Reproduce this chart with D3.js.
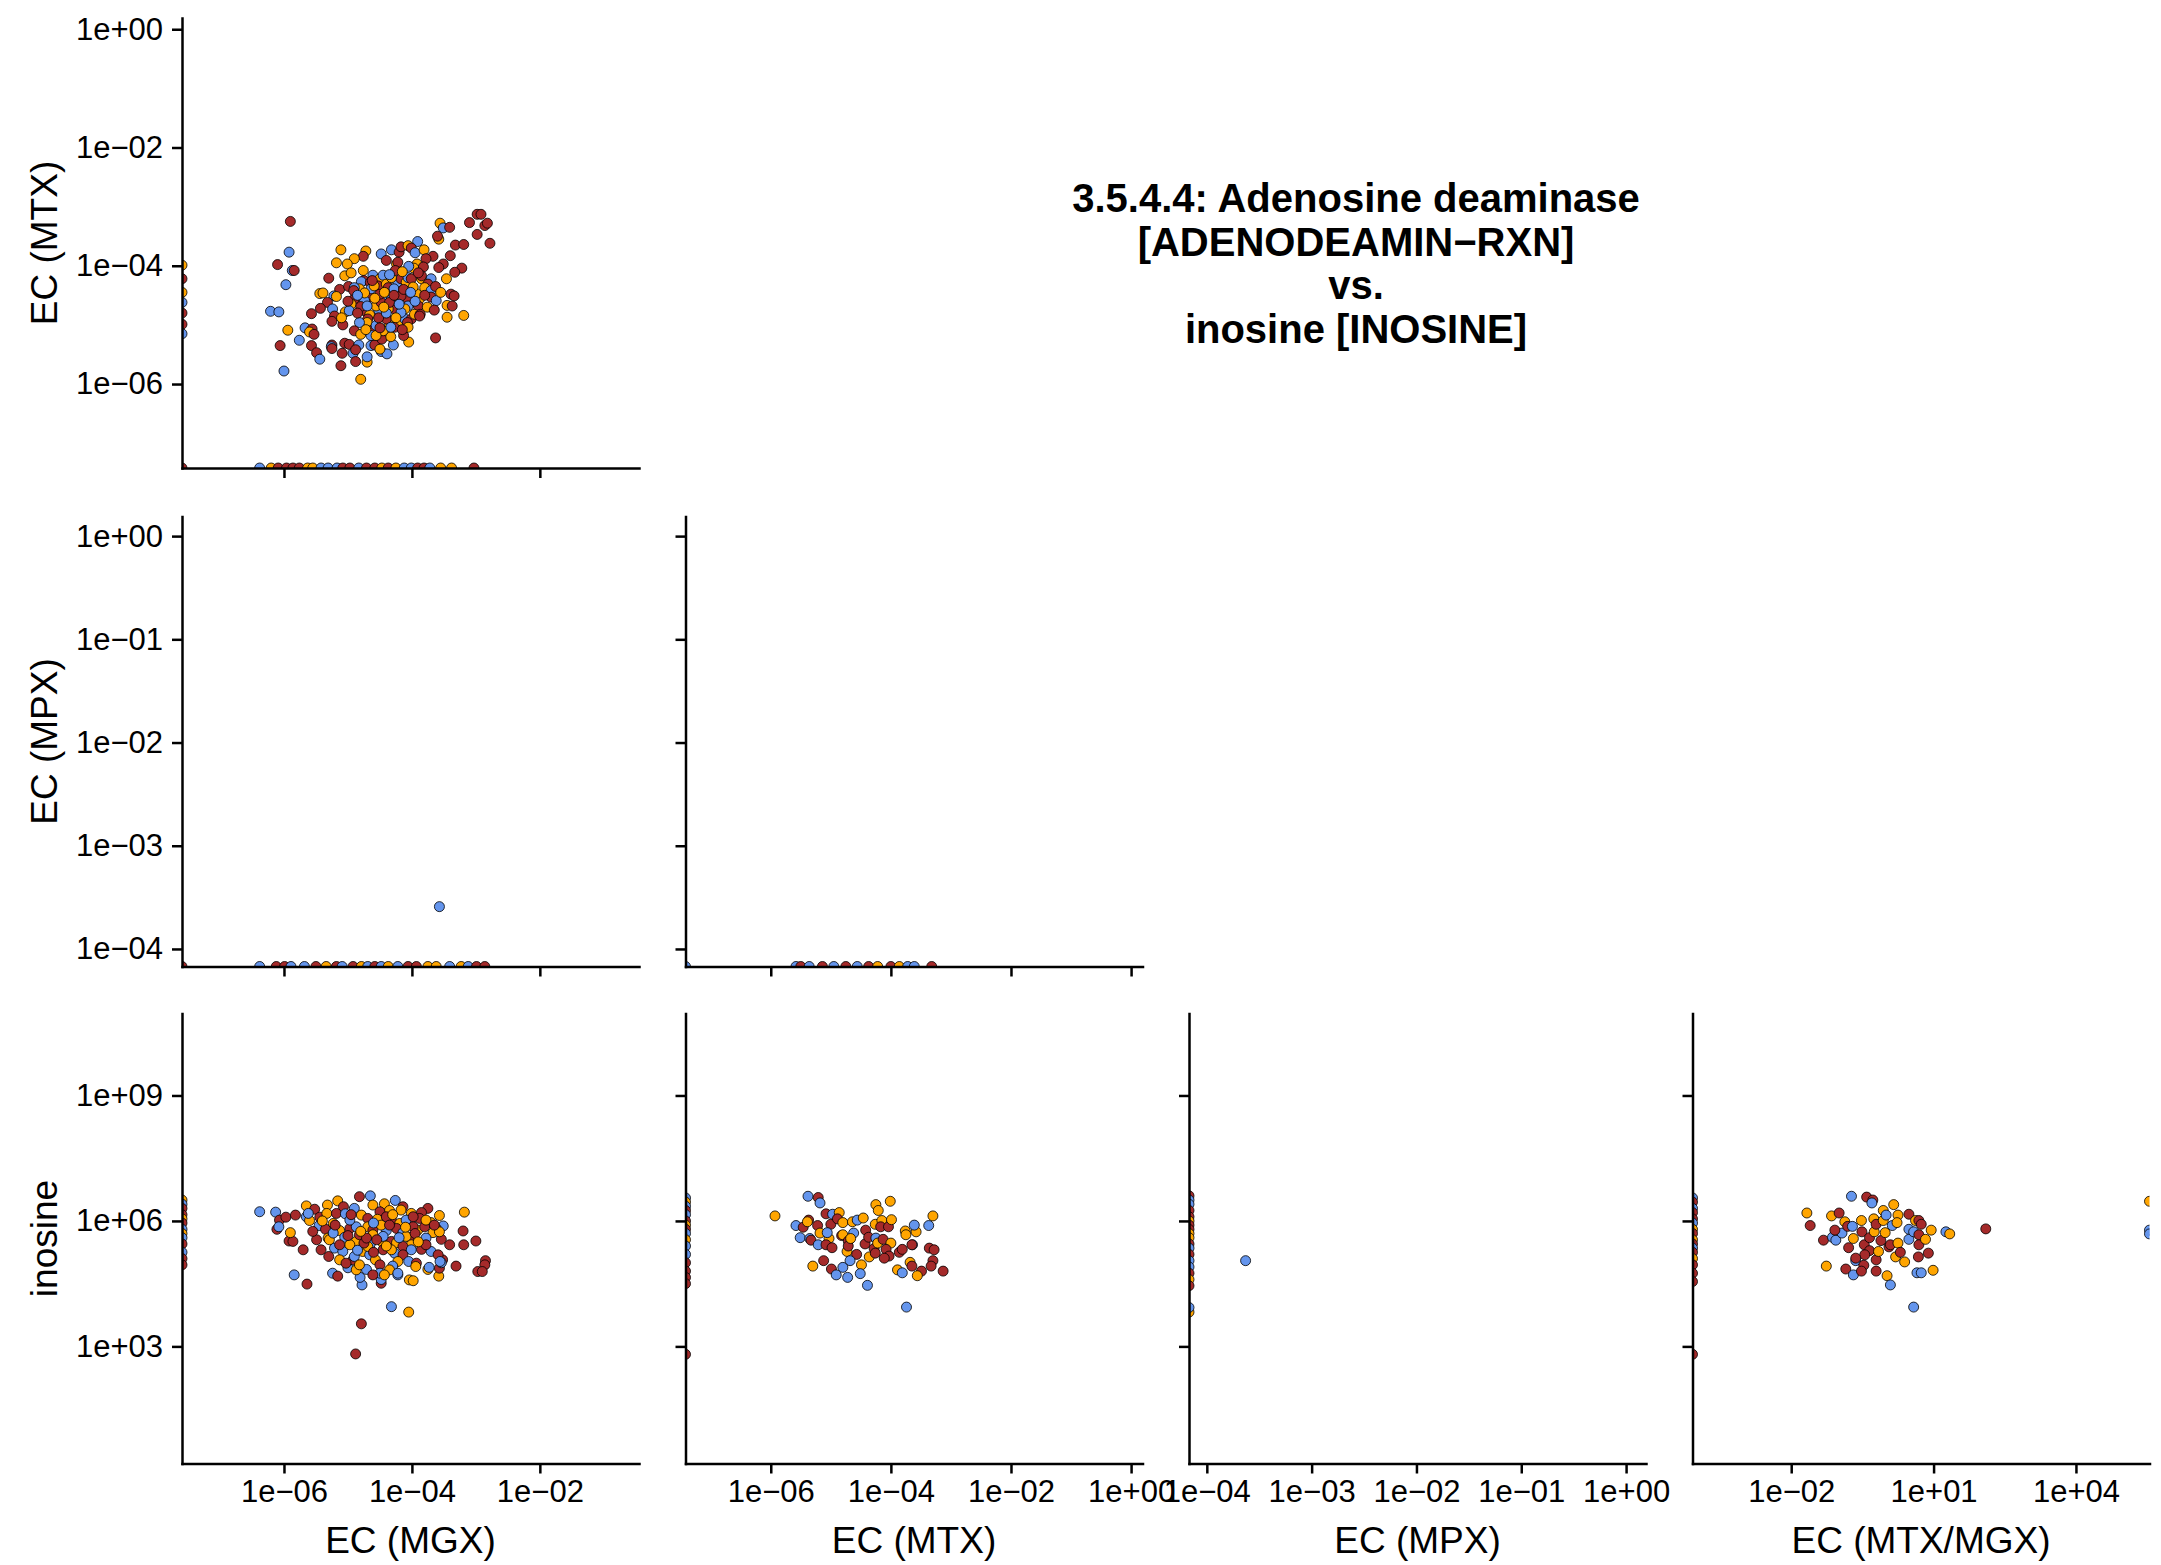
<!DOCTYPE html>
<html>
<head>
<meta charset="utf-8">
<script src="https://cdn.jsdelivr.net/npm/d3@7"></script>
<style>
  html, body { margin: 0; padding: 0; background: #ffffff; }
  svg { display: block; }
</style>
</head>
<body>
<svg id="chart" width="2161" height="1565"></svg>
<script>
// ---------------- DATA (log10 units) ----------------
// null = value 0 (drawn at the lower axis edge); Infinity = drawn at the upper edge.
const groupKeys = ["B", "O", "R"];
const groupColors = ["#6495ED", "#FFA500", "#A52A2A"];

const titleLines = ["3.5.4.4: Adenosine deaminase", "[ADENODEAMIN\u2212RXN]", "vs.", "inosine [INOSINE]"];

const variableNames = ["EC (MGX)", "EC (MTX)", "EC (MPX)", "EC (MTX/MGX)", "inosine"];
// log10 limits of each axis
const variableLimits = [[-7.594, -0.45], [-7.42, 0.19], [-4.17, 0.19], [-4.08, 5.55], [0.2, 10.96]];
// tick values (log10)
const variableTicks = [[-6, -4, -2], [-6, -4, -2, 0], [-4, -3, -2, -1, 0], [-2, 1, 4], [3, 6, 9]];

// Panel: EC (MTX) vs EC (MGX)   [mgx, mtx, group]
const mtxVsMgx = [
  [-5.90,-3.25,"R"],[-5.92,-3.77,"B"],[-6.10,-3.98,"R"],[-5.87,-4.08,"B"],[-5.84,-4.08,"R"],[-5.97,-4.32,"B"],
  [-6.21,-4.77,"B"],[-6.08,-4.78,"B"],[-5.94,-5.09,"O"],[-6.06,-5.35,"R"],[-6.00,-5.78,"B"],[-4.80,-5.92,"O"],
  [-5.11,-5.69,"R"],[-3.63,-5.22,"R"],[-3.45,-4.87,"O"],[-3.19,-4.84,"O"],[-2.78,-3.62,"R"],[-2.98,-3.13,"R"],
  [-2.92,-3.13,"R"],[-3.10,-3.27,"R"],[-2.86,-3.32,"R"],[-2.82,-3.28,"R"],[-2.98,-3.47,"R"],[-3.56,-3.28,"O"],
  [-3.51,-3.36,"B"],[-3.41,-3.35,"R"],[-3.58,-3.55,"O"],[-3.60,-3.50,"R"],[-3.32,-3.65,"R"],[-3.19,-3.64,"R"],
  [-3.91,-3.59,"B"],[-3.40,-3.83,"R"],[-3.22,-4.04,"R"],[-3.33,-4.11,"R"],[-3.46,-4.22,"O"],[-3.39,-4.48,"R"],
  [-3.34,-4.51,"R"],[-3.45,-4.67,"O"],[-3.37,-4.68,"R"],
  [-5.11,-3.73,"O"],[-4.72,-3.75,"O"],[-4.76,-3.84,"R"],[-4.90,-3.88,"O"],[-5.18,-3.95,"O"],[-5.01,-3.97,"O"],
  [-4.48,-3.80,"B"],[-4.32,-3.73,"B"],[-4.20,-3.77,"R"],[-4.17,-3.68,"R"],[-4.06,-3.66,"O"],[-4.01,-3.70,"R"],
  [-3.95,-3.78,"B"],[-3.81,-3.73,"O"],[-4.40,-3.91,"R"],[-4.24,-3.97,"O"],[-4.22,-3.94,"R"],[-3.67,-3.84,"R"],
  [-3.78,-3.88,"R"],[-3.51,-3.97,"R"],[-3.58,-4.03,"R"],[-3.92,-3.97,"O"],[-3.97,-4.04,"O"],[-4.05,-4.01,"B"],
  [-3.82,-4.02,"R"],[-5.30,-4.21,"R"],[-5.05,-4.17,"O"],[-4.95,-4.12,"O"],[-4.76,-4.08,"O"],[-4.75,-4.25,"R"],
  [-4.79,-4.27,"B"],[-5.13,-4.40,"R"],[-4.99,-4.35,"R"],[-5.44,-4.47,"O"],[-5.39,-4.46,"O"],[-5.22,-4.51,"B"],
  [-5.18,-4.52,"O"],[-5.32,-4.62,"R"],[-5.24,-4.73,"B"],[-5.57,-4.81,"R"],[-5.43,-4.72,"R"],[-5.04,-4.78,"O"],
  [-5.21,-4.85,"R"],[-5.25,-4.94,"R"],[-5.08,-5.00,"R"],[-5.67,-5.05,"B"],[-5.56,-5.07,"R"],[-5.60,-5.12,"O"],
  [-5.53,-5.16,"R"],[-5.76,-5.26,"B"],[-5.57,-5.35,"R"],[-5.49,-5.47,"R"],[-5.44,-5.58,"B"],[-5.25,-5.34,"R"],
  [-5.26,-5.37,"B"],[-5.25,-5.40,"R"],[-5.05,-5.31,"R"],[-4.98,-5.33,"R"],[-5.09,-5.48,"R"],[-4.92,-5.48,"B"],
  [-4.88,-5.62,"R"],[-4.70,-5.63,"O"],[-4.70,-5.54,"B"],[-4.64,-5.35,"B"],[-4.58,-5.34,"R"],[-4.48,-5.45,"B"],
  [-4.39,-5.49,"B"],[-4.83,-5.34,"B"],[-4.88,-5.42,"R"],[-4.47,-5.24,"R"],[-4.50,-5.41,"O"],[-4.29,-5.34,"B"],
  [-4.33,-5.20,"O"],[-4.05,-5.29,"O"],[-4.13,-5.18,"R"],
  [-4.61,-4.16,"B"],[-4.65,-4.28,"R"],[-4.50,-4.22,"O"],[-4.45,-4.16,"B"],[-4.53,-4.34,"R"],[-4.40,-4.31,"O"],
  [-4.37,-4.37,"R"],[-4.27,-4.39,"O"],[-4.22,-4.28,"B"],[-4.17,-4.22,"R"],[-4.09,-4.28,"O"],[-4.06,-4.20,"B"],
  [-4.01,-4.22,"R"],[-3.85,-4.22,"O"],[-3.85,-4.17,"R"],[-3.70,-4.22,"B"],[-3.75,-4.31,"R"],[-3.80,-4.37,"O"],
  [-3.70,-4.42,"B"],[-3.70,-4.53,"R"],[-3.88,-4.56,"O"],[-3.62,-4.59,"B"],[-3.90,-4.68,"R"],[-3.93,-4.47,"O"],
  [-4.06,-4.56,"R"],[-4.06,-4.68,"B"],[-4.11,-4.73,"O"],[-4.27,-4.73,"R"],[-4.37,-4.73,"O"],[-4.52,-4.75,"B"],
  [-4.66,-4.53,"R"],[-4.74,-4.59,"B"],[-4.82,-4.39,"O"],[-4.90,-4.56,"R"],[-4.90,-4.37,"B"],[-4.95,-4.65,"O"],
  [-4.74,-4.76,"R"],[-4.66,-4.83,"O"],[-4.69,-4.90,"R"],[-4.70,-4.96,"O"],[-4.82,-4.96,"B"],[-4.90,-5.10,"R"],
  [-4.80,-5.16,"O"],[-4.64,-5.10,"R"],[-4.64,-5.18,"B"],[-4.35,-5.01,"O"],[-4.27,-5.04,"R"],[-4.17,-4.93,"O"],
  [-4.11,-4.90,"B"],[-4.01,-4.90,"R"],[-3.96,-4.82,"O"],[-3.87,-4.82,"R"],[-4.17,-4.79,"B"],[-4.40,-4.90,"R"],
  [-4.45,-5.10,"O"],[-4.33,-5.04,"B"],[-4.07,-4.96,"R"],[-4.06,-5.04,"O"],[-3.88,-4.85,"R"],[-4.45,-4.56,"B"],
  [-4.56,-4.68,"O"],[-4.48,-4.62,"R"],[-4.32,-4.56,"B"],[-4.24,-4.51,"O"],[-4.17,-4.51,"R"],[-4.28,-4.39,"B"],
  [-4.32,-4.20,"O"],[-4.26,-4.08,"R"],[-4.64,-4.39,"B"],[-4.59,-4.34,"O"],[-4.50,-4.48,"R"],[-4.74,-4.46,"O"],
  [-4.98,-4.76,"B"],[-4.91,-4.42,"R"],[-4.80,-4.69,"R"],[-4.56,-5.18,"O"],[-4.56,-5.01,"B"],
  [-4.43,-4.45,"O"],[-4.35,-4.62,"R"],[-4.20,-4.65,"B"],[-4.13,-4.40,"R"],[-3.98,-4.36,"O"],[-3.95,-4.60,"B"],
  [-3.80,-4.50,"R"],[-3.76,-4.70,"O"],[-4.58,-4.55,"O"],[-4.70,-4.68,"B"],[-4.85,-4.80,"R"],[-4.52,-4.88,"R"],
  [-4.40,-4.80,"B"],[-4.25,-4.88,"O"],[-4.15,-5.08,"R"],[-4.50,-5.05,"R"],[-4.72,-5.08,"O"],[-4.85,-4.50,"B"],
  [-5.00,-4.60,"R"],[-5.10,-4.88,"O"],[-4.62,-4.25,"R"],[-4.35,-4.15,"B"],[-4.15,-4.10,"O"],[-3.90,-4.12,"R"],
  [-3.63,-4.35,"R"],[-3.55,-4.45,"O"],[-3.65,-4.75,"R"],[-4.02,-4.45,"B"],[-4.28,-4.50,"R"],[-4.44,-4.70,"O"],
  [null,-3.99,"O"],[null,-4.22,"R"],[null,-4.45,"O"],[null,-4.62,"B"],[null,-4.80,"R"],[null,-4.99,"R"],[null,-5.15,"B"],
  [-6.38,null,"B"],[-6.20,null,"O"],[-6.09,null,"R"],[-5.96,null,"R"],[-5.86,null,"R"],[-5.76,null,"R"],
  [-5.63,null,"O"],[-5.55,null,"O"],[-5.42,null,"B"],[-5.31,null,"B"],[-5.17,null,"B"],[-5.08,null,"R"],
  [-4.97,null,"R"],[-4.83,null,"B"],[-4.71,null,"R"],[-4.58,null,"R"],[-4.47,null,"O"],[-4.37,null,"R"],
  [-4.25,null,"O"],[-4.12,null,"B"],[-4.01,null,"B"],[-3.91,null,"R"],[-3.81,null,"R"],[-3.72,null,"B"],
  [-3.55,null,"O"],[-3.38,null,"O"],[-3.03,null,"R"],[null,null,"R"]
];

// Panel: EC (MPX) vs EC (MGX)   [mgx, mpx, group]
const mpxVsMgx = [
  [-6.38,null,"B"],[-6.12,null,"R"],[-5.99,null,"R"],[-5.89,null,"B"],[-5.68,null,"B"],[-5.50,null,"R"],
  [-5.34,null,"O"],[-5.18,null,"R"],[-5.09,null,"B"],[-4.92,null,"R"],[-4.79,null,"O"],[-4.69,null,"B"],
  [-4.58,null,"R"],[-4.48,null,"B"],[-4.37,null,"O"],[-4.22,null,"B"],[-4.06,null,"R"],[-3.93,null,"R"],
  [-3.75,null,"O"],[-3.62,null,"O"],[-3.41,null,"B"],[-3.23,null,"O"],[-3.12,null,"B"],[-2.99,null,"R"],
  [-2.86,null,"R"],[null,null,"R"],[-3.57,-3.59,"B"]
];

// Panel: EC (MPX) vs EC (MTX)   [mtx, mpx, group]
const mpxVsMtx = [
  [-5.58,null,"B"],[-5.50,null,"R"],[-5.36,null,"B"],[-5.14,null,"R"],[-4.95,null,"B"],[-4.75,null,"R"],
  [-4.56,null,"B"],[-4.37,null,"R"],[-4.22,null,"O"],[-4.00,null,"R"],[-3.86,null,"O"],[-3.72,null,"B"],
  [-3.61,null,"B"],[-3.32,null,"R"],[null,null,"B"]
];

// Panel: inosine vs EC (MGX)   [mgx, inosine, group]
const inoVsMgx = [
  [-6.38,6.22,"B"],[-6.13,6.21,"B"],[-6.07,6.02,"R"],[-5.97,6.09,"R"],[-6.11,5.80,"R"],[-6.08,5.86,"B"],
  [-5.92,5.52,"R"],[-5.86,5.51,"R"],[-5.90,5.72,"O"],[-5.70,5.31,"R"],[-5.84,4.71,"B"],[-5.64,4.49,"R"],
  [-4.32,3.95,"B"],[-4.05,3.82,"O"],[-4.79,3.54,"R"],[-4.88,2.82,"R"],[-3.18,6.21,"O"],[-3.20,5.76,"R"],
  [-3.00,5.52,"R"],[-3.19,5.43,"R"],[-2.85,5.05,"R"],[-2.86,4.95,"R"],[-2.97,4.79,"R"],[-2.90,4.79,"R"],
  [-3.31,4.92,"R"],[-3.58,4.68,"O"],[-4.04,4.59,"O"],[-3.98,4.57,"O"],[-4.22,4.71,"B"],[-4.48,4.51,"R"],
  [-4.48,4.60,"B"],[-4.78,4.47,"B"],[-4.81,4.65,"B"],[-5.24,4.75,"B"],[-5.16,4.68,"R"],[-5.00,4.88,"B"],
  [-4.87,4.83,"O"],[-4.71,4.84,"B"],[-3.57,4.87,"R"],[-3.75,4.84,"O"],[-3.73,4.89,"B"],[-3.52,5.07,"R"],
  [-3.54,5.00,"B"],
  [-4.82,6.58,"R"],[-4.65,6.60,"B"],[-4.26,6.49,"B"],[-5.16,6.48,"O"],[-5.65,6.36,"O"],[-5.32,6.38,"O"],
  [-5.07,6.34,"R"],[-5.52,6.28,"R"],[-4.43,6.41,"O"],[-4.61,6.38,"O"],[-4.14,6.34,"R"],[-3.75,6.30,"R"],
  [-3.57,6.13,"O"],[-3.85,6.20,"R"],[-4.17,6.26,"O"],[-4.35,6.25,"O"],[-4.90,6.30,"B"],[-4.50,6.22,"R"],
  [-4.01,6.18,"O"],[-3.88,6.06,"R"],
  [-5.82,6.14,"R"],[-5.65,6.10,"B"],[-5.60,6.01,"O"],[-5.44,6.09,"R"],[-5.33,6.18,"O"],[-5.18,6.18,"R"],
  [-5.04,6.17,"B"],[-4.79,6.14,"O"],[-4.69,6.06,"R"],[-4.54,6.04,"O"],[-4.32,6.02,"R"],[-4.19,5.94,"O"],
  [-4.09,6.02,"B"],[-3.98,6.10,"R"],[-3.70,5.96,"O"],[-3.51,5.88,"B"],[-3.62,5.82,"R"],
  [-5.45,5.89,"B"],[-5.23,5.94,"O"],[-5.35,5.80,"R"],[-5.13,5.77,"O"],[-4.97,5.82,"R"],[-4.87,5.86,"B"],
  [-4.69,5.86,"O"],[-4.61,5.78,"R"],[-4.40,5.77,"B"],[-4.48,5.90,"O"],[-4.24,5.82,"R"],[-4.14,5.72,"B"],
  [-4.04,5.61,"R"],[-3.91,5.78,"O"],[-3.80,5.86,"R"],[-3.67,5.72,"O"],[-3.78,5.59,"B"],[-3.54,5.56,"R"],
  [-3.57,5.74,"O"],[-3.41,5.43,"R"],[-5.31,5.59,"O"],[-5.49,5.55,"R"],[-5.05,5.61,"B"],[-4.87,5.51,"O"],
  [-4.82,5.67,"R"],[-4.61,5.67,"O"],[-4.65,5.45,"B"],[-4.45,5.47,"O"],[-4.32,5.51,"R"],[-4.24,5.48,"O"],
  [-3.85,5.32,"R"],[-3.70,5.27,"B"],[-3.59,5.19,"R"],[-3.56,5.03,"B"],[-4.01,5.43,"O"],[-4.14,5.39,"R"],
  [-4.01,5.31,"B"],
  [-5.42,5.31,"R"],[-5.21,5.35,"B"],[-5.29,5.55,"O"],[-5.30,5.15,"R"],[-5.08,5.27,"B"],[-5.13,5.07,"O"],
  [-4.92,5.07,"R"],[-4.77,5.27,"O"],[-4.66,5.19,"B"],[-4.57,5.07,"O"],[-4.45,5.31,"R"],[-4.27,5.23,"B"],
  [-4.14,5.19,"R"],[-4.22,5.03,"O"],[-4.05,5.03,"B"],[-3.93,4.99,"R"],[-3.94,4.91,"O"],[-4.30,4.92,"B"],
  [-4.50,4.95,"R"],[-4.35,4.83,"O"],[-4.90,5.15,"B"],[-5.03,4.99,"R"],[-4.82,4.95,"O"],[-4.50,4.75,"B"],
  [-4.61,4.71,"R"],[-4.43,4.71,"O"],[-4.22,4.75,"B"],[-4.69,5.39,"O"],[-4.75,5.47,"R"],[-5.62,6.18,"B"],
  [-4.97,5.43,"O"],[-5.13,5.43,"R"],[-4.45,5.63,"B"],[-4.71,5.59,"R"],[-4.32,5.31,"O"],[-3.98,5.86,"R"],
  [-5.23,5.71,"B"],[-4.09,5.63,"O"],[-3.78,5.43,"R"],[-3.78,6.02,"O"],[-4.97,6.02,"B"],[-4.40,6.10,"R"],
  [-4.60,5.95,"B"],[-4.35,5.90,"R"],[-4.10,5.85,"O"],[-3.95,5.70,"R"],[-4.55,5.55,"R"],[-4.80,5.75,"O"],
  [-5.00,5.65,"R"],[-5.20,5.90,"R"],[-4.20,5.60,"B"],[-4.40,5.40,"O"],[-4.60,5.25,"R"],[-4.85,5.30,"B"],
  [-3.90,5.50,"O"],[-3.65,5.90,"R"],[-5.40,6.00,"O"],[-5.55,5.75,"R"],[-4.30,6.15,"O"],[-4.95,6.15,"R"],
  [null,6.50,"O"],[null,6.40,"B"],[null,6.30,"R"],[null,6.15,"R"],[null,6.05,"O"],[null,5.95,"R"],
  [null,5.80,"B"],[null,5.70,"O"],[null,5.60,"B"],[null,5.45,"R"],[null,5.25,"B"],[null,5.10,"R"],[null,4.95,"R"]
];

// Panel: inosine vs EC (MTX)   [mtx, inosine, group]
const inoVsMtx = [
  [-5.93,6.12,"O"],[-5.38,6.59,"B"],[-5.21,6.56,"R"],[-5.18,6.43,"B"],[-5.58,5.89,"B"],[-5.46,5.85,"R"],
  [-5.51,5.60,"B"],[-5.37,6.02,"R"],[-5.39,5.98,"O"],[-5.35,5.58,"B"],[-5.33,5.54,"R"],[-5.22,5.89,"R"],
  [-5.18,5.71,"O"],[-5.03,5.58,"O"],[-5.21,5.43,"B"],[-5.08,5.43,"R"],[-4.98,5.36,"R"],[-5.08,6.17,"R"],
  [-4.97,6.16,"B"],[-4.86,6.20,"O"],[-5.00,5.92,"R"],[-5.06,5.72,"B"],[-4.89,6.05,"R"],[-4.80,5.96,"O"],
  [-4.82,5.65,"R"],[-4.80,5.67,"O"],[-4.73,5.27,"O"],[-4.71,5.52,"R"],[-4.71,5.40,"R"],[-4.64,5.98,"O"],
  [-4.62,5.71,"B"],[-4.67,5.58,"O"],[-4.56,6.02,"B"],[-4.46,6.07,"O"],[-4.42,5.78,"R"],[-4.57,5.20,"R"],
  [-4.68,5.05,"B"],[-4.80,4.89,"B"],[-4.99,4.85,"R"],[-5.12,5.05,"R"],[-5.30,4.92,"O"],[-4.91,4.71,"B"],
  [-4.72,4.65,"B"],[-4.49,4.95,"O"],[-4.51,4.74,"B"],[-4.39,4.46,"B"],[-4.36,5.14,"O"],[-4.43,5.45,"R"],
  [-4.37,5.61,"R"],[-4.25,6.39,"O"],[-4.21,6.25,"O"],[-4.26,5.92,"O"],[-4.28,5.34,"R"],[-4.26,5.23,"R"],
  [-4.25,5.59,"B"],[-4.22,5.47,"O"],[-4.15,6.01,"O"],[-4.17,5.86,"R"],[-4.13,5.56,"R"],[-4.04,5.86,"R"],
  [-3.99,6.03,"O"],[-4.00,5.47,"O"],[-4.01,6.47,"O"],[-4.08,5.32,"R"],[-4.03,5.16,"R"],[-4.11,5.11,"R"],
  [-3.86,5.25,"R"],[-3.81,5.32,"R"],[-3.76,5.76,"O"],[-3.75,5.67,"O"],[-3.58,5.74,"O"],[-3.61,5.90,"B"],
  [-3.64,5.43,"B"],[-3.65,5.43,"R"],[-3.68,5.01,"O"],[-3.65,4.92,"R"],[-3.89,4.83,"O"],[-3.81,4.76,"B"],
  [-3.49,4.80,"R"],[-3.56,4.69,"O"],[-3.37,5.89,"B"],[-3.30,6.12,"O"],[-3.36,5.35,"R"],[-3.28,5.31,"R"],
  [-3.30,5.05,"R"],[-3.33,4.92,"R"],[-3.13,4.80,"R"],[-3.74,3.94,"B"],
  [null,6.55,"B"],[null,6.45,"O"],[null,6.35,"B"],[null,6.25,"R"],[null,6.15,"B"],[null,6.00,"R"],
  [null,5.90,"O"],[null,5.80,"R"],[null,5.70,"B"],[null,5.55,"O"],[null,5.40,"B"],[null,5.20,"B"],
  [null,5.00,"R"],[null,4.80,"R"],[null,4.65,"R"],[null,4.50,"R"],[null,2.81,"R"]
];

// Panel: inosine vs EC (MPX)   [mpx, inosine, group]
const inoVsMpx = [
  [null,6.60,"R"],[null,6.50,"B"],[null,6.40,"B"],[null,6.25,"R"],[null,6.10,"R"],[null,6.00,"O"],
  [null,5.90,"R"],[null,5.80,"R"],[null,5.70,"O"],[null,5.60,"O"],[null,5.45,"R"],[null,5.35,"B"],
  [null,5.20,"R"],[null,5.05,"B"],[null,4.90,"B"],[null,4.75,"R"],[null,4.60,"O"],[null,4.45,"R"],
  [null,3.82,"O"],[null,3.93,"B"],[-3.63,5.05,"B"]
];

// Panel: inosine vs EC (MTX/MGX)   [ratio, inosine, group]
const inoVsRatio = [
  [-1.67,6.19,"O"],[-1.60,5.89,"R"],[-1.15,6.12,"O"],[-0.99,6.19,"R"],[-1.32,5.54,"R"],[-1.13,5.61,"B"],
  [-1.06,5.54,"B"],[-1.26,4.92,"O"],[-0.85,4.85,"R"],[-0.79,5.36,"R"],[-0.93,5.71,"B"],[-1.08,5.78,"R"],
  [-0.87,5.98,"O"],[-0.81,5.87,"R"],[-0.73,6.59,"B"],[-0.41,6.57,"R"],[-0.28,6.50,"R"],[-0.30,6.43,"B"],
  [-0.69,5.58,"O"],[-0.71,5.87,"B"],[-0.51,5.74,"R"],[-0.52,6.01,"O"],[-0.26,6.05,"O"],[-0.46,5.43,"R"],
  [-0.35,5.29,"R"],[-0.45,5.19,"R"],[-0.64,5.05,"B"],[-0.64,5.11,"R"],[-0.47,4.94,"R"],[-0.69,4.71,"B"],
  [-0.52,4.80,"R"],[-0.21,4.80,"R"],[-0.21,5.07,"R"],[-0.16,5.27,"O"],[-0.35,5.60,"R"],[-0.25,5.74,"O"],
  [-0.11,5.53,"R"],[-0.21,5.92,"R"],[-0.06,6.25,"O"],[-0.06,6.01,"O"],[-0.02,5.72,"O"],[0.00,6.14,"B"],
  [0.06,5.38,"R"],[0.09,5.43,"R"],[0.02,4.69,"O"],[0.09,4.47,"B"],[0.16,6.39,"O"],[0.25,6.14,"O"],
  [0.13,5.89,"B"],[0.23,5.96,"O"],[0.25,5.47,"O"],[0.20,5.14,"O"],[0.30,5.25,"R"],[0.39,5.02,"O"],
  [0.48,6.16,"R"],[0.48,5.80,"B"],[0.48,5.56,"B"],[0.62,6.01,"O"],[0.69,6.01,"R"],[0.74,5.92,"R"],
  [0.58,5.74,"B"],[0.69,5.67,"R"],[0.69,5.43,"R"],[0.83,5.56,"O"],[0.89,5.23,"R"],[0.68,5.14,"R"],
  [0.65,4.76,"B"],[0.74,4.76,"B"],[0.99,4.82,"O"],[0.95,5.78,"O"],[1.26,5.74,"B"],[1.34,5.69,"O"],
  [2.10,5.81,"R"],[0.58,3.94,"B"],
  [Infinity,6.47,"O"],[Infinity,5.78,"B"],[Infinity,5.69,"B"],
  [null,6.55,"B"],[null,6.45,"R"],[null,6.30,"B"],[null,6.20,"R"],[null,6.05,"R"],[null,5.95,"B"],
  [null,5.80,"O"],[null,5.70,"R"],[null,5.55,"O"],[null,5.45,"R"],[null,5.35,"B"],[null,5.25,"R"],
  [null,5.10,"O"],[null,4.95,"R"],[null,4.75,"R"],[null,4.55,"R"],[null,2.81,"R"]
];

// Panels of the lower-triangle matrix: [row, col, xVariable, yVariable, data]
const panels = [
  [0, 0, 0, 1, mtxVsMgx],
  [1, 0, 0, 2, mpxVsMgx],
  [1, 1, 1, 2, mpxVsMtx],
  [2, 0, 0, 4, inoVsMgx],
  [2, 1, 1, 4, inoVsMtx],
  [2, 2, 2, 4, inoVsMpx],
  [2, 3, 3, 4, inoVsRatio]
];
const rowVariable = [1, 2, 4];
const colVariable = [0, 1, 2, 3];

// ---------------- LAYOUT / STYLE ----------------
const colX = [182, 685.5, 1189, 1692.5];
const rowY = [18, 516.5, 1013.5];
const panelW = 457, panelH = 450;
const font = "'Liberation Sans', Arial, Helvetica, sans-serif";
const tickFont = 31, axisTitleFont = 37, titleFont = 40;
const lineW = 2.5, tickLen = 10;
const pointR = 5;

const svg = d3.select("#chart");
svg.append("rect").attr("width", 2161).attr("height", 1565).attr("fill", "#ffffff");

function fmtExp(e) {
  const sign = e < 0 ? "\u2212" : "+";
  const a = Math.abs(e);
  return "1e" + sign + (a < 10 ? "0" + a : "" + a);
}
const color = d3.scaleOrdinal().domain(groupKeys).range(groupColors);

function makeScale(v, range) {
  const lim = variableLimits[v];
  return d3.scaleLog().domain([Math.pow(10, lim[0]), Math.pow(10, lim[1])]).range(range).clamp(true);
}
function position(scale, v) {
  const r = scale.range();
  if (v === null) return r[0];
  if (v === Infinity) return r[1];
  return scale(Math.pow(10, v));
}

const defs = svg.append("defs");

panels.forEach(([row, col, xv, yv, data], i) => {
  const x = makeScale(xv, [0, panelW]);
  const y = makeScale(yv, [panelH, 0]);
  const g = svg.append("g").attr("transform", `translate(${colX[col]},${rowY[row]})`);

  defs.append("clipPath").attr("id", "clip" + i)
    .append("rect").attr("x", 0).attr("y", 0).attr("width", panelW).attr("height", panelH);

  g.append("g").attr("clip-path", `url(#clip${i})`)
    .selectAll("circle").data(data).join("circle")
    .attr("cx", d => position(x, d[0]))
    .attr("cy", d => position(y, d[1]))
    .attr("r", pointR)
    .attr("fill", d => color(d[2]))
    .attr("stroke", "#000")
    .attr("stroke-width", 0.8);

  const showX = row === 2, showY = col === 0;
  const xAxis = d3.axisBottom(x)
    .tickValues(variableTicks[xv].map(t => Math.pow(10, t)))
    .tickFormat(d => showX ? fmtExp(Math.round(Math.log10(d))) : "")
    .tickSizeInner(tickLen).tickSizeOuter(0).tickPadding(6);
  const yAxis = d3.axisLeft(y)
    .tickValues(variableTicks[yv].map(t => Math.pow(10, t)))
    .tickFormat(d => showY ? fmtExp(Math.round(Math.log10(d))) : "")
    .tickSizeInner(tickLen).tickSizeOuter(0).tickPadding(9);

  const gx = g.append("g").attr("transform", `translate(0,${panelH})`).call(xAxis);
  const gy = g.append("g").call(yAxis);
  [gx, gy].forEach(a => {
    a.select(".domain").attr("stroke", "#000").attr("stroke-width", lineW).attr("stroke-linecap", "square");
    a.selectAll(".tick line").attr("stroke", "#000").attr("stroke-width", lineW);
    a.selectAll(".tick text").attr("fill", "#000").style("font-family", font).style("font-size", tickFont + "px");
  });
});

// axis titles
colVariable.forEach((v, c) => {
  svg.append("text")
    .attr("x", colX[c] + panelW / 2).attr("y", 1553)
    .attr("text-anchor", "middle")
    .style("font-family", font).style("font-size", axisTitleFont + "px")
    .text(variableNames[v]);
});
rowVariable.forEach((v, r) => {
  const cy = rowY[r] + panelH / 2;
  svg.append("text")
    .attr("transform", `translate(57,${cy}) rotate(-90)`)
    .attr("text-anchor", "middle")
    .style("font-family", font).style("font-size", axisTitleFont + "px")
    .text(variableNames[v]);
});

// title
const titleBaselines = [212, 256, 299, 343];
svg.append("g").selectAll("text").data(titleLines).join("text")
  .attr("x", 1356).attr("y", (d, i) => titleBaselines[i])
  .attr("text-anchor", "middle")
  .style("font-family", font).style("font-size", titleFont + "px").style("font-weight", "bold")
  .text(d => d);
</script>
</body>
</html>
